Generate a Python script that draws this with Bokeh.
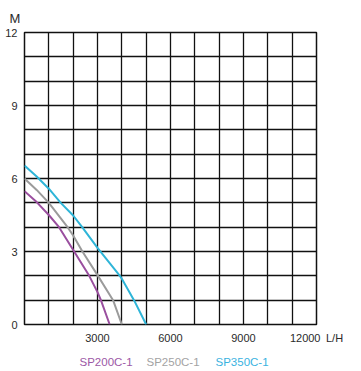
from bokeh.plotting import figure
from bokeh.models import FixedTicker, Label, Range1d, Title
from bokeh.layouts import column
from bokeh.embed import file_html
from bokeh.resources import INLINE

# ---- data ----
flow_sp200 = [0, 500, 1000, 1420, 2040, 2660, 3000, 3140, 3500]
head_sp200 = [5.48, 5.03, 4.5, 4.0, 3.0, 2.0, 1.33, 1.0, 0.0]

flow_sp250 = [0, 500, 1000, 1770, 2000, 2380, 3000, 3640, 4000]
head_sp250 = [6.0, 5.53, 5.0, 4.0, 3.66, 3.0, 2.03, 1.0, 0.0]

flow_sp350 = [0, 500, 1000, 1490, 2000, 2370, 3000, 3920, 4000, 4500, 5000]
head_sp350 = [6.53, 6.08, 5.58, 5.0, 4.48, 4.0, 3.15, 2.0, 1.88, 1.0, 0.0]

series_names = ["SP200C-1", "SP250C-1", "SP350C-1"]
series_colors = ["#9a4f9f", "#9b9b9b", "#2fb5d8"]
text_colors = ["#9c58a6", "#a3a3a3", "#3ab3df"]

x_ticks = [3000, 6000, 9000, 12000]
y_ticks = [0, 3, 6, 9, 12]
x_unit = "L/H"
y_unit = "M"
x_grid = list(range(0, 12001, 1000))
y_grid = list(range(0, 13, 1))

FONT = "Liberation Sans"
TXT = "#2a2a2a"
W = 361
H_MAIN, H_LEG = 350, 21

p = figure(width=W, height=H_MAIN, output_backend="svg", toolbar_location=None,
           x_range=Range1d(0, 12000), y_range=Range1d(0, 12),
           min_border_left=24, min_border_right=45,
           min_border_top=32, min_border_bottom=H_MAIN - 324)

p.title = Title(text=y_unit, align="left", offset=-15, standoff=13,
                text_font=FONT, text_font_size="13px", text_font_style="normal",
                text_color=TXT)

p.background_fill_color = "white"
p.border_fill_color = "white"
p.outline_line_color = "#111111"
p.outline_line_width = 1.5

p.xgrid.ticker = FixedTicker(ticks=x_grid)
p.ygrid.ticker = FixedTicker(ticks=y_grid)
for g in (p.xgrid, p.ygrid):
    g.grid_line_color = "#111111"
    g.grid_line_width = 1.3
    g.grid_line_alpha = 1.0

p.xaxis[0].ticker = FixedTicker(ticks=x_ticks)
p.yaxis[0].ticker = FixedTicker(ticks=y_ticks)
p.xaxis[0].major_label_overrides = {x_ticks[-1]: f"{x_ticks[-1]}\u2002{x_unit}"}
for ax in (p.xaxis[0], p.yaxis[0]):
    ax.axis_line_color = None
    ax.major_tick_line_color = None
    ax.minor_tick_line_color = None
    ax.major_tick_out = 0
    ax.major_tick_in = 0
    ax.major_label_text_font = FONT
    ax.major_label_text_font_size = "11px"
    ax.major_label_text_color = TXT
p.xaxis[0].major_label_standoff = 7
p.yaxis[0].major_label_standoff = 7

flows = [flow_sp200, flow_sp250, flow_sp350]
heads = [head_sp200, head_sp250, head_sp350]
for f, h, c in zip(flows, heads, series_colors):
    p.line(f, h, line_color=c, line_width=2)

# coloured series names in a strip below the chart
leg = figure(width=W, height=H_LEG, output_backend="svg", toolbar_location=None,
             x_range=Range1d(0, W), y_range=Range1d(0, H_LEG),
             x_axis_location=None, y_axis_location=None,
             min_border=0)
leg.outline_line_color = None
leg.xgrid.visible = False
leg.ygrid.visible = False
legend_x = [55, 122, 191]
for name, col, lx in zip(series_names, text_colors, legend_x):
    leg.add_layout(Label(x=lx, y=H_LEG - 11.7, x_units="screen", y_units="screen",
                         text=name, text_align="left", text_baseline="middle",
                         text_font=FONT, text_font_size="11.5px", text_color=col))

layout = column(p, leg, spacing=0)
open("out.html", "w").write(file_html(layout, INLINE))
